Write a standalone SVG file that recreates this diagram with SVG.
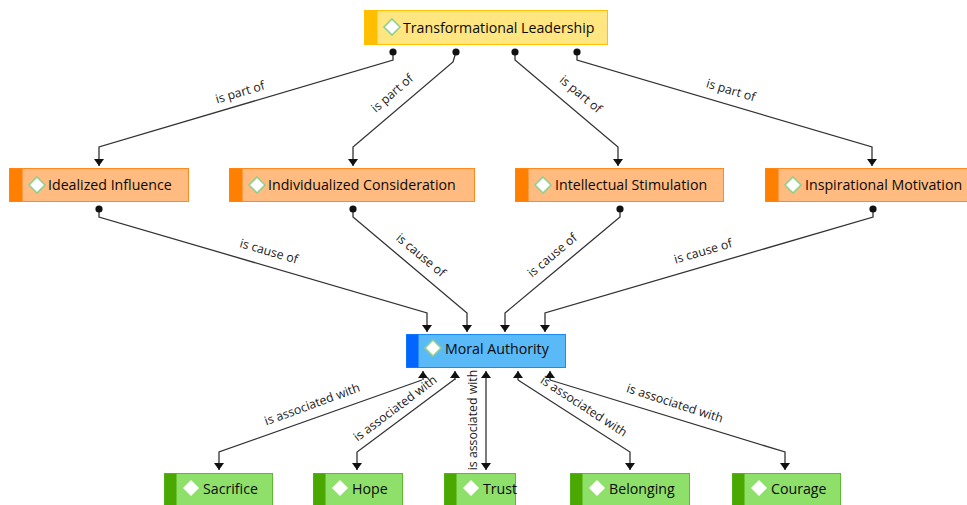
<svg xmlns="http://www.w3.org/2000/svg" width="967" height="505" viewBox="0 0 967 505">
<style>
.lbl{font-family:"Open Sans","Liberation Sans",sans-serif;font-size:14.2px;font-weight:500;fill:#0a0a0a;dominant-baseline:central}
.el{font-family:"Open Sans","Liberation Sans",sans-serif;font-size:12.3px;fill:#1a1a1a;text-anchor:middle;dominant-baseline:central}
.c{fill:none;stroke:#333;stroke-width:1.3}
.dia{fill:#fff;stroke:#8fd08f;stroke-width:1.6}
.diag{fill:#fff;stroke:none}
</style>
<defs>
<marker id="arr" markerUnits="userSpaceOnUse" markerWidth="12" markerHeight="12" viewBox="-8 -6 10 12" refX="0" refY="0" orient="auto"><path d="M-7,-5 L0,0 L-7,5 Z" fill="#111"/></marker>
<marker id="dot" markerUnits="userSpaceOnUse" markerWidth="10" markerHeight="10" viewBox="-5 -5 10 10" refX="0" refY="0"><circle r="3.6" fill="#111"/></marker>
</defs>
<rect width="967" height="505" fill="#fff"/>
<g id="connectors">
<path class="c" marker-start="url(#dot)" marker-end="url(#arr)" d="M393,52 L393,60 L99,147 L99,166"/>
<path class="c" marker-start="url(#dot)" marker-end="url(#arr)" d="M456,52 L453,62 L353,147 L353,166"/>
<path class="c" marker-start="url(#dot)" marker-end="url(#arr)" d="M515,52 L515,60 L618,147 L618,166"/>
<path class="c" marker-start="url(#dot)" marker-end="url(#arr)" d="M577,52 L577,60 L872,147 L872,166"/>
<path class="c" marker-start="url(#dot)" marker-end="url(#arr)" d="M99,209 L99,217 L427,313 L427,332"/>
<path class="c" marker-start="url(#dot)" marker-end="url(#arr)" d="M353,209 L353,217 L467,313 L467,332"/>
<path class="c" marker-start="url(#dot)" marker-end="url(#arr)" d="M620,209 L620,217 L505,313 L505,332"/>
<path class="c" marker-start="url(#dot)" marker-end="url(#arr)" d="M873,209 L873,217 L545,313 L545,332"/>
<path class="c" marker-end="url(#arr)" d="M422,380 L219,452 L219,470"/>
<path class="c" marker-end="url(#arr)" d="M423,380 L423,371"/>
<path class="c" marker-end="url(#arr)" d="M455,379 L357,452 L357,470"/>
<path class="c" marker-end="url(#arr)" d="M455,380 L455,371"/>
<path class="c" marker-end="url(#arr)" d="M486,420 L486,470"/>
<path class="c" marker-end="url(#arr)" d="M486,420 L486,371"/>
<path class="c" marker-end="url(#arr)" d="M518,380 L630,452 L630,470"/>
<path class="c" marker-end="url(#arr)" d="M518,380 L518,371"/>
<path class="c" marker-end="url(#arr)" d="M550,380 L785,452 L785,470"/>
<path class="c" marker-end="url(#arr)" d="M550,380 L550,371"/>
<text class="el" transform="translate(240,92) rotate(-16.5)">is part of</text>
<text class="el" transform="translate(392,93) rotate(-41)">is part of</text>
<text class="el" transform="translate(581,94) rotate(40)">is part of</text>
<text class="el" transform="translate(731,90) rotate(16.5)">is part of</text>
<text class="el" transform="translate(269,251) rotate(16.3)">is cause of</text>
<text class="el" transform="translate(421,255) rotate(40)">is cause of</text>
<text class="el" transform="translate(552,255) rotate(-40)">is cause of</text>
<text class="el" transform="translate(703,251) rotate(-16.3)">is cause of</text>
<text class="el" transform="translate(312,404) rotate(-20)">is associated with</text>
<text class="el" transform="translate(395,408) rotate(-37)">is associated with</text>
<text class="el" transform="translate(472,420) rotate(-90)">is associated with</text>
<text class="el" transform="translate(584,406) rotate(33)">is associated with</text>
<text class="el" transform="translate(675,403) rotate(18)">is associated with</text>
</g>
<g id="n-transformational">
<rect x="364.5" y="10.5" width="243" height="34" fill="#ffe680" stroke="#ffc000"/>
<rect x="364.5" y="10.5" width="13" height="34" fill="#ffbf00"/>
<path class="dia" d="M392,19 L400,27 L392,35 L384,27 Z"/>
<text class="lbl" x="403" y="27">Transformational Leadership</text>
</g>
<g id="n-idealized">
<rect x="9.5" y="168.5" width="179" height="33" fill="#ffbb80" stroke="#ff8a20"/>
<rect x="9.5" y="168.5" width="13" height="33" fill="#ff7f00"/>
<path class="dia" d="M37,177 L45,185 L37,193 L29,185 Z"/>
<text class="lbl" x="48" y="184">Idealized Influence</text>
</g>
<g id="n-individualized">
<rect x="229.5" y="168.5" width="245" height="33" fill="#ffbb80" stroke="#ff8a20"/>
<rect x="229.5" y="168.5" width="13" height="33" fill="#ff7f00"/>
<path class="dia" d="M257,177 L265,185 L257,193 L249,185 Z"/>
<text class="lbl" x="268" y="184">Individualized Consideration</text>
</g>
<g id="n-intellectual">
<rect x="515.5" y="168.5" width="208" height="33" fill="#ffbb80" stroke="#ff8a20"/>
<rect x="515.5" y="168.5" width="13" height="33" fill="#ff7f00"/>
<path class="dia" d="M543,177 L551,185 L543,193 L535,185 Z"/>
<text class="lbl" x="555" y="184">Intellectual Stimulation</text>
</g>
<g id="n-inspirational">
<rect x="765.5" y="168.5" width="210" height="33" fill="#ffbb80" stroke="#ff8a20"/>
<rect x="765.5" y="168.5" width="13" height="33" fill="#ff7f00"/>
<path class="dia" d="M793,177 L801,185 L793,193 L785,185 Z"/>
<text class="lbl" x="805" y="184">Inspirational Motivation</text>
</g>
<g id="n-moral">
<rect x="406.5" y="334.5" width="159" height="33" fill="#5ab9f7" stroke="#1e88ff"/>
<rect x="406.5" y="334.5" width="12" height="33" fill="#0066ff"/>
<path class="dia" d="M433,340 L441,348 L433,356 L425,348 Z"/>
<text class="lbl" x="445" y="348">Moral Authority</text>
</g>
<g id="n-sacrifice">
<rect x="164.5" y="473.5" width="108" height="34" fill="#8ee06a" stroke="#5cbb30"/>
<rect x="164.5" y="473.5" width="12" height="34" fill="#4aa800"/>
<path class="diag" d="M191,480 L199,488 L191,496 L183,488 Z"/>
<text class="lbl" x="203" y="488">Sacrifice</text>
</g>
<g id="n-hope">
<rect x="313.5" y="473.5" width="89" height="34" fill="#8ee06a" stroke="#5cbb30"/>
<rect x="313.5" y="473.5" width="12" height="34" fill="#4aa800"/>
<path class="diag" d="M340,480 L348,488 L340,496 L332,488 Z"/>
<text class="lbl" x="352" y="488">Hope</text>
</g>
<g id="n-trust">
<rect x="444.5" y="473.5" width="71" height="34" fill="#8ee06a" stroke="#5cbb30"/>
<rect x="444.5" y="473.5" width="12" height="34" fill="#4aa800"/>
<path class="diag" d="M471,480 L479,488 L471,496 L463,488 Z"/>
<text class="lbl" x="483" y="488">Trust</text>
</g>
<g id="n-belonging">
<rect x="570.5" y="473.5" width="119" height="34" fill="#8ee06a" stroke="#5cbb30"/>
<rect x="570.5" y="473.5" width="12" height="34" fill="#4aa800"/>
<path class="diag" d="M597,480 L605,488 L597,496 L589,488 Z"/>
<text class="lbl" x="609" y="488">Belonging</text>
</g>
<g id="n-courage">
<rect x="732.5" y="473.5" width="108" height="34" fill="#8ee06a" stroke="#5cbb30"/>
<rect x="732.5" y="473.5" width="12" height="34" fill="#4aa800"/>
<path class="diag" d="M759,480 L767,488 L759,496 L751,488 Z"/>
<text class="lbl" x="771" y="488">Courage</text>
</g>
</svg>
